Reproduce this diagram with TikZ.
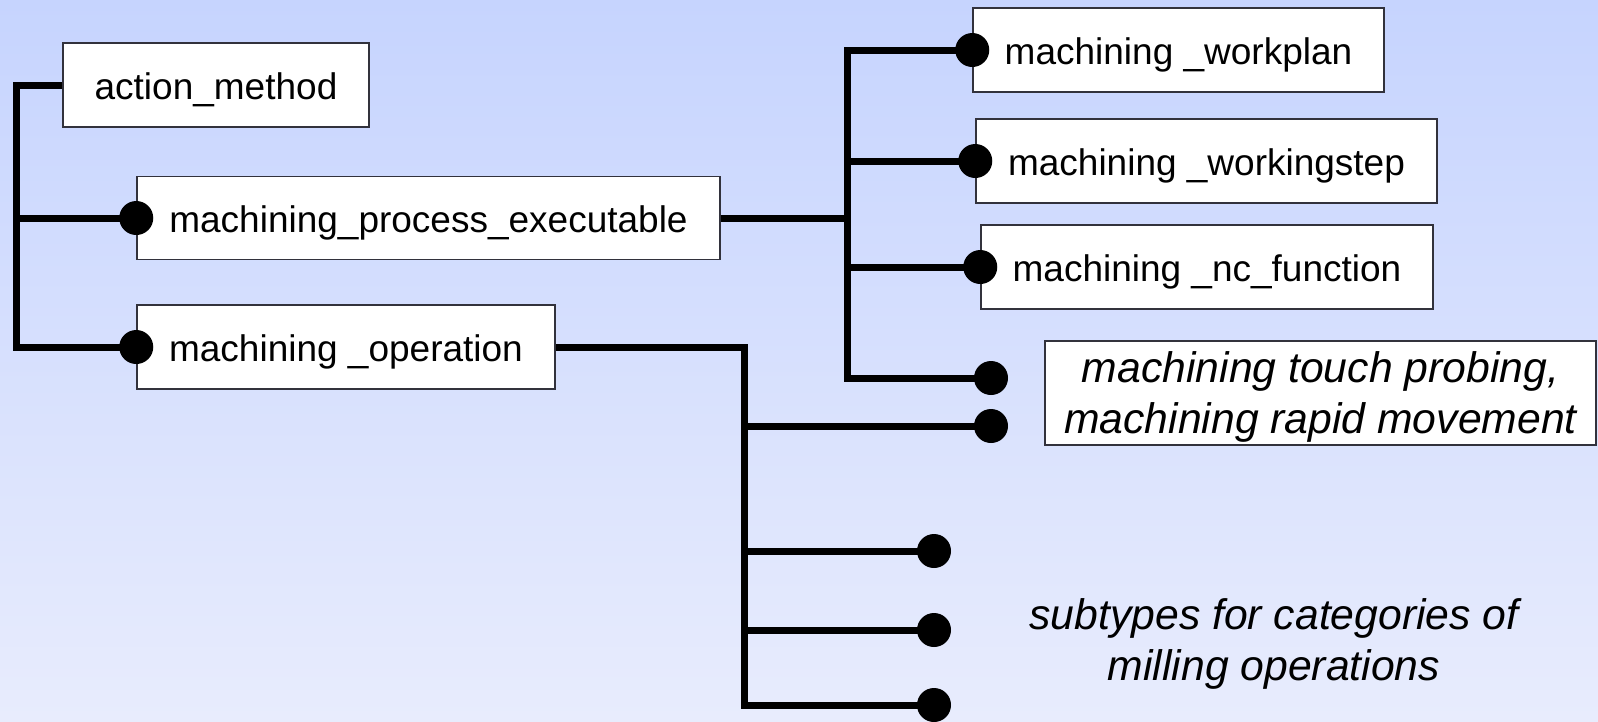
\documentclass[tikz,border=0pt]{standalone}
\usepackage{fontspec}
\setmainfont{Liberation Sans}
\definecolor{bgtop}{RGB}{198,212,254}
\definecolor{bgbot}{RGB}{232,236,253}
\definecolor{boxline}{RGB}{50,50,60}
\tikzset{
  cls/.style={draw=boxline, fill=white, line width=1.5pt, inner sep=0pt,
    font=\fontsize{37}{44}\selectfont, align=center, text height=28pt, text depth=0pt},
  conn/.style={line width=7pt, line join=miter},
  dotend/.style={fill=black},
  note/.style={font=\fontsize{42.7}{51}\itshape\selectfont, align=center, inner sep=0pt, text depth=0pt}
}
\begin{document}
\begin{tikzpicture}[x=1pt,y=-1pt]
  % background
  \shade[top color=bgtop, bottom color=bgbot] (0,0) rectangle (1598,721);
  \useasboundingbox (0,0) rectangle (1598,721);

  % entity boxes
  \node[cls, minimum width=306pt, minimum height=84pt] (am)  at (216,85)    {action\_method};
  \node[cls, minimum width=583pt, minimum height=83pt] (mpe) at (428.5,218) {machining\_process\_executable};
  \node[cls, minimum width=418pt, minimum height=84pt] (mop) at (346,347)   {machining \_operation};
  \node[cls, minimum width=411pt, minimum height=84pt] (wp)  at (1178.5,50) {machining \_workplan};
  \node[cls, minimum width=461pt, minimum height=84pt] (ws)  at (1206.5,161) {machining \_workingstep};
  \node[cls, minimum width=452pt, minimum height=84pt] (nc)  at (1207,267)  {machining \_nc\_function};
  \node[draw=boxline, fill=white, line width=1.5pt, note, minimum width=551pt, minimum height=104pt] (tp) at (1320.5,393)
    {machining touch probing,\\machining rapid movement};
  \node[note] (sub) at (1274,640) {subtypes for categories of\\milling operations};

  % spine points and free ends
  \coordinate (s1) at (16,85);
  \path (mpe.east) -- ++(127,0) coordinate (s2);
  \path (mop.east) -| (744,0) coordinate[pos=0.5] (s3);
  \coordinate (e1) at (991,378);
  \coordinate (e2) at (991,426);
  \coordinate (e3) at (934,551);
  \coordinate (e4) at (934,630);
  \coordinate (e5) at (934,705);

  % action_method subtypes
  \draw[conn] (am.west) -- (s1) |- (mop.west);
  \draw[conn] (s1) |- (mpe.west);

  % machining_process_executable subtypes
  \draw[conn] (mpe.east) -- (s2);
  \draw[conn] (wp.west) -| (s2) |- (e1);
  \draw[conn] (s2) |- (ws.west);
  \draw[conn] (s2) |- (nc.west);

  % machining_operation subtypes
  \draw[conn] (mop.east) -- (s3) |- (e5);
  \draw[conn] (s3) |- (e2);
  \draw[conn] (s3) |- (e3);
  \draw[conn] (s3) |- (e4);

  % end dots
  \foreach \p in {mpe.west, mop.west, wp.west, ws.west, nc.west, e1, e2, e3, e4, e5}
    \fill[dotend] (\p) circle (17pt);
\end{tikzpicture}
\end{document}
